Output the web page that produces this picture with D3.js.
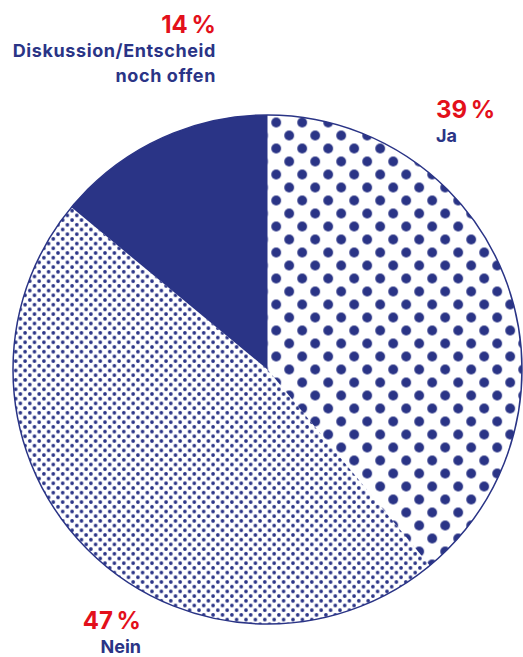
<!DOCTYPE html>
<html><head><meta charset="utf-8">
<script src="https://cdn.jsdelivr.net/npm/d3@7"></script>
<style>
html,body{margin:0;padding:0;background:#fff;}
svg{display:block;}
text{font-family:Inter,"Open Sans",sans-serif;font-weight:700;}
</style></head>
<body>
<svg id="c" width="523" height="657"></svg>
<script>
const categories = ["Ja", "Nein", "Diskussion/Entscheid noch offen"];
const values = [39, 47, 14];
const labelLines = [["Ja"], ["Nein"], ["Diskussion/Entscheid", "noch offen"]];
const percentLabels = ["39\u202F%", "47\u202F%", "14\u202F%"];

const navy = "#2a3486", red = "#e3101b";
const W = 523, H = 657, cx = 267.5, cy = 369.5, R = 254.5;

const svg = d3.select("#c");
const defs = svg.append("defs");

// big dots pattern
const pb = defs.append("pattern").attr("id", "bigdots").attr("patternUnits", "userSpaceOnUse")
  .attr("width", 26).attr("height", 26).attr("x", 21.7).attr("y", 0);
[[0,0],[26,0],[0,26],[26,26],[13,13]].forEach(([x,y]) =>
  pb.append("circle").attr("cx", x).attr("cy", y).attr("r", 4.9).attr("fill", navy));

// small dots pattern
const ps = defs.append("pattern").attr("id", "smalldots").attr("patternUnits", "userSpaceOnUse")
  .attr("width", 9.4).attr("height", 9.4).attr("x", 2).attr("y", 1);
[[0,0],[9.4,0],[0,9.4],[9.4,9.4],[4.7,4.7]].forEach(([x,y]) =>
  ps.append("circle").attr("cx", x).attr("cy", y).attr("r", 1.85).attr("fill", navy));

const fills = ["url(#bigdots)", "url(#smalldots)", navy];

const pie = d3.pie().sort(null).value(d => d);
const arc = d3.arc().innerRadius(0).outerRadius(R);

const g = svg.append("g").attr("transform", `translate(${cx},${cy})`);
g.selectAll("path.slice").data(pie(values)).join("path")
  .attr("class", "slice")
  .attr("d", arc)
  .attr("fill", (d, i) => fills[i]);

g.append("circle").attr("r", R).attr("fill", "none").attr("stroke", navy).attr("stroke-width", 1.5);

// labels
const labelPos = [
  {x: 436, y: 118, anchor: "start", ls: 0},
  {x: 141, y: 629, anchor: "end", ls: 0},
  {x: 216, y: 33, anchor: "end", ls: 0.6}
];
categories.forEach((c, i) => {
  const p = labelPos[i];
  svg.append("text").attr("x", p.x).attr("y", p.y).attr("text-anchor", p.anchor)
    .attr("fill", red).attr("font-size", 24).attr("letter-spacing", 0.3).text(percentLabels[i]);
  labelLines[i].forEach((line, j) => {
    svg.append("text").attr("x", p.x).attr("y", p.y + 24 + j * 25)
      .attr("text-anchor", p.anchor).attr("fill", navy).attr("font-size", 18)
      .attr("letter-spacing", p.ls).text(line);
  });
});
</script>
</body></html>
